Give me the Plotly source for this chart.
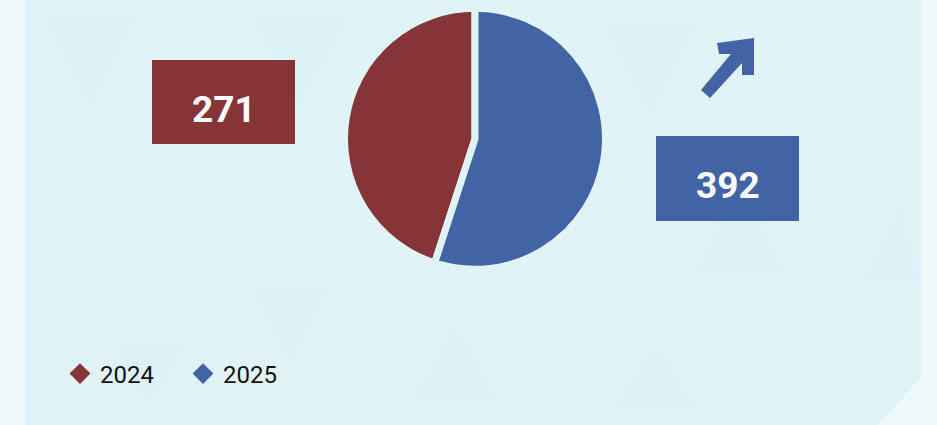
import plotly.graph_objects as go

W, H = 937, 425

# Data
years = ["2024", "2025"]
counts = [271, 392]
pie_share = [45, 55]          # slice shares as drawn in the reference
colors = ["#853437", "#4364a4"]

panel = "#e0f4f7"
outer = "#eef9f9"

def px(x):
    return x / W

def py(y):
    return 1 - y / H

def path(points):
    s = "M " + " L ".join(f"{px(x):.5f},{py(y):.5f}" for x, y in points) + " Z"
    return s

fig = go.Figure()

# pie
cx, cy, r = 475, 138.8, 130.5
fig.add_trace(go.Pie(
    labels=years, values=pie_share, sort=False, direction="clockwise",
    rotation=360 * pie_share[1] / sum(pie_share), textinfo="none", hoverinfo="label+value",
    marker=dict(colors=colors, line=dict(color=panel, width=7)),
    showlegend=False,
    domain=dict(x=[px(cx - r), px(cx + r)], y=[py(cy + r), py(cy - r)]),
))

# legend entries (diamonds)
for yr, c in zip(years, colors):
    fig.add_trace(go.Scatter(x=[None], y=[None], mode="markers", name=yr,
                             marker=dict(symbol="diamond", size=17, color=c)))

shapes = []
# background panel with cut corner
shapes.append(dict(type="path", xref="paper", yref="paper", layer="below",
                   path=path([(25, 0), (921, 0), (921, 378), (877, 425), (25, 425)]),
                   fillcolor=panel, line=dict(width=0)))
# faint background triangles
tri_col = "rgba(205,232,238,0.12)"
tris = [
    [(40, 15), (140, 15), (90, 110)],
    [(250, 15), (350, 15), (300, 110)],
    [(600, 20), (700, 20), (650, 120)],
    [(250, 285), (330, 285), (290, 370)],
    [(690, 275), (790, 275), (740, 180)],
    [(860, 280), (920, 280), (900, 200)],
    [(610, 410), (700, 410), (655, 340)],
    [(110, 340), (190, 340), (150, 410)],
    [(410, 400), (500, 400), (455, 320)],
]
for t in tris:
    shapes.append(dict(type="path", xref="paper", yref="paper", layer="below",
                       path=path(t), fillcolor=tri_col, line=dict(width=0)))

# value boxes
boxes = [(152, 60, 295, 144), (656, 136, 799, 221)]
for (x0, y0, x1, y1), c in zip(boxes, colors):
    shapes.append(dict(type="rect", xref="paper", yref="paper",
                       x0=px(x0), x1=px(x1), y0=py(y1), y1=py(y0),
                       fillcolor=c, line=dict(width=0)))

# arrow icon
arrow = [(717, 43), (754, 38), (754, 75), (742, 75), (742, 63), (710, 98),
         (701, 90), (731, 54), (719, 54)]
shapes.append(dict(type="path", xref="paper", yref="paper",
                   path=path(arrow), fillcolor=colors[1], line=dict(width=0)))

annotations = []
for (x0, y0, x1, y1), v in zip(boxes, counts):
    annotations.append(dict(x=px((x0 + x1) / 2), y=py((y0 + y1) / 2 + 7),
                            xref="paper", yref="paper", text=f"<b>{v}</b>",
                            showarrow=False, xanchor="center", yanchor="middle",
                            font=dict(family="Roboto", size=37, color="white")))

fig.update_layout(
    width=W, height=H, margin=dict(l=0, r=0, t=0, b=0),
    paper_bgcolor=outer, plot_bgcolor="rgba(0,0,0,0)",
    xaxis=dict(visible=False), yaxis=dict(visible=False),
    shapes=shapes, annotations=annotations,
    showlegend=True,
    legend=dict(orientation="h", x=px(60), y=py(374), xanchor="left", yanchor="middle",
                font=dict(family="Roboto", size=24, color="#111111"),
                bgcolor="rgba(0,0,0,0)", entrywidth=78, entrywidthmode="pixels"),
)

fig.write_html("out.html")
